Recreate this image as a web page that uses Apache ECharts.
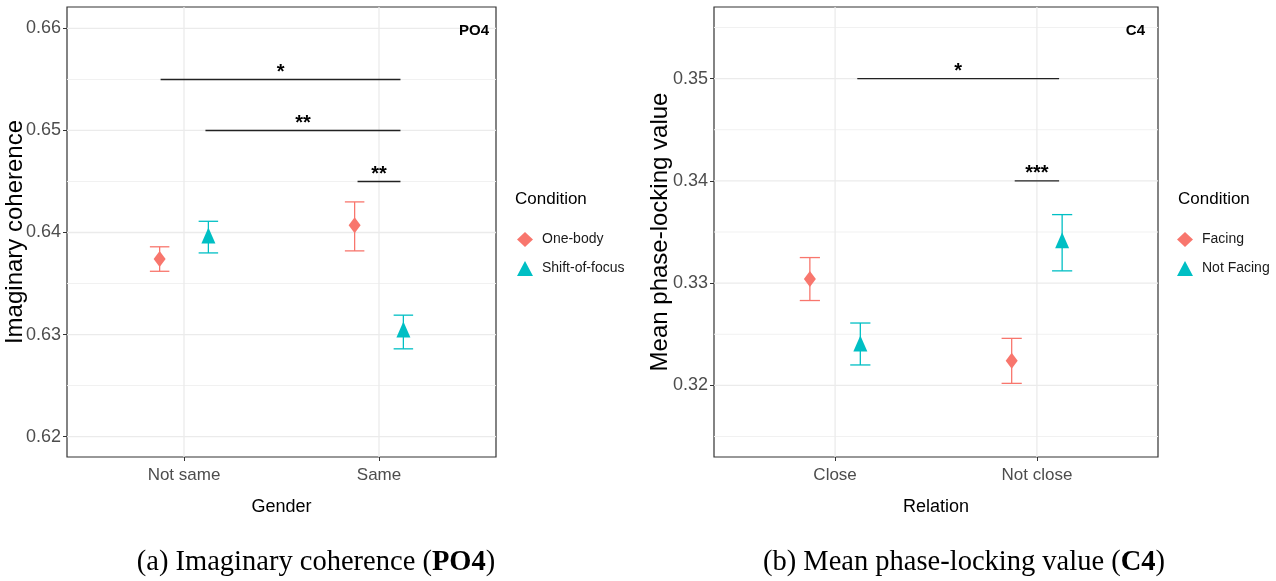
<!DOCTYPE html>
<html><head><meta charset="utf-8">
<script src="https://cdn.jsdelivr.net/npm/echarts@6/dist/echarts.min.js"></script>
<style>html,body{margin:0;padding:0;background:#fff}#c{width:1276px;height:581px}</style>
</head><body><div id="c"></div>
<script>
// ---------- data ----------
const genderCats = ['Not same', 'Same'];
const relationCats = ['Close', 'Not close'];
const condA = ['One-body', 'Shift-of-focus'];
const condB = ['Facing', 'Not Facing'];

const oneBodyMean = [0.6374, 0.6407];
const oneBodyLow  = [0.6362, 0.6382];
const oneBodyHigh = [0.6386, 0.6430];
const shiftMean   = [0.6397, 0.6305];
const shiftLow    = [0.6380, 0.6286];
const shiftHigh   = [0.6411, 0.6319];

const facingMean    = [0.3304, 0.3224];
const facingLow     = [0.3283, 0.3202];
const facingHigh    = [0.3325, 0.3246];
const notFacingMean = [0.3241, 0.3342];
const notFacingLow  = [0.3220, 0.3312];
const notFacingHigh = [0.3261, 0.3367];

const yTicksA = [0.62, 0.63, 0.64, 0.65, 0.66];
const yMinorA = [0.625, 0.635, 0.645, 0.655];
const yTicksB = [0.32, 0.33, 0.34, 0.35];
const yMinorB = [0.315, 0.325, 0.335, 0.345, 0.355];

// significance brackets
const sigA_x0 = [0.88, 1.11, 1.89];
const sigA_x1 = [2.11, 2.11, 2.11];
const sigA_y  = [0.655, 0.650, 0.645];
const sigA_label = ['*', '**', '**'];
const sigB_x0 = [1.11, 1.89];
const sigB_x1 = [2.11, 2.11];
const sigB_y  = [0.350, 0.340];
const sigB_label = ['*', '***'];

// ---------- style ----------
const RED = '#F8766D', TEAL = '#00BFC4';
const SANS = '"Liberation Sans", Arial, sans-serif';
const SERIF = '"Liberation Serif", "Times New Roman", serif';
const DODGE = 0.125, CAP = 0.05;
const XMIN = 0.4, XMAX = 2.6;

const chart = echarts.init(document.getElementById('c'));

function pos(i, side) { return i + 1 + side * DODGE; }

function gridH(gi, majors, minors) {
  const data = majors.map(v => [1, v, 1]).concat(minors.map(v => [1, v, 0]));
  return {
    type: 'custom', xAxisIndex: gi, yAxisIndex: gi, silent: true, z: 0, clip: true,
    encode: {x: 0, y: 1}, data: data,
    renderItem: (params, api) => {
      const cs = params.coordSys;
      const p = api.coord([api.value(0), api.value(1)]);
      const major = api.value(2) === 1;
      return {type: 'line', silent: true,
        shape: {x1: cs.x, y1: p[1], x2: cs.x + cs.width, y2: p[1]},
        style: {stroke: major ? '#EBEBEB' : '#F1F1F1', lineWidth: major ? 1.3 : 1}};
    }
  };
}
function gridV(gi, yRef) {
  return {
    type: 'custom', xAxisIndex: gi, yAxisIndex: gi, silent: true, z: 0, clip: true,
    encode: {x: 0, y: 1}, data: [[1, yRef], [2, yRef]],
    renderItem: (params, api) => {
      const cs = params.coordSys;
      const p = api.coord([api.value(0), api.value(1)]);
      return {type: 'line', silent: true,
        shape: {x1: p[0], y1: cs.y, x2: p[0], y2: cs.y + cs.height},
        style: {stroke: '#EBEBEB', lineWidth: 1.3}};
    }
  };
}
function errBars(gi, name, color, side, low, high) {
  return {
    type: 'custom', name: name, xAxisIndex: gi, yAxisIndex: gi, z: 2,
    itemStyle: {color: color},
    encode: {x: 0, y: [1, 2]},
    data: low.map((l, i) => [pos(i, side), l, high[i]]),
    renderItem: (params, api) => {
      const x = api.value(0), lo = api.value(1), hi = api.value(2);
      const pLo = api.coord([x, lo]), pHi = api.coord([x, hi]);
      const pL = api.coord([x - CAP, hi]), pR = api.coord([x + CAP, hi]);
      const h = (pR[0] - pL[0]) / 2;
      const st = {stroke: color, lineWidth: 1.3, fill: null};
      return {type: 'group', children: [
        {type: 'line', shape: {x1: pLo[0], y1: pLo[1], x2: pHi[0], y2: pHi[1]}, style: st},
        {type: 'line', shape: {x1: pHi[0] - h, y1: pHi[1], x2: pHi[0] + h, y2: pHi[1]}, style: st},
        {type: 'line', shape: {x1: pLo[0] - h, y1: pLo[1], x2: pLo[0] + h, y2: pLo[1]}, style: st}
      ]};
    }
  };
}
function points(gi, name, color, side, means, symbol, size) {
  return {
    type: 'scatter', name: name, xAxisIndex: gi, yAxisIndex: gi, z: 3,
    symbol: symbol, symbolSize: size,
    itemStyle: {color: color, opacity: 1},
    data: means.map((m, i) => [pos(i, side), m])
  };
}
function sig(gi, x0, x1, y, labels) {
  return {
    type: 'custom', xAxisIndex: gi, yAxisIndex: gi, z: 4, silent: true,
    encode: {x: [0, 1], y: 2},
    data: x0.map((v, i) => [v, x1[i], y[i]]),
    renderItem: (params, api) => {
      const a = api.coord([api.value(0), api.value(2)]);
      const b = api.coord([api.value(1), api.value(2)]);
      return {type: 'group', children: [
        {type: 'line', shape: {x1: a[0], y1: a[1], x2: b[0], y2: b[1]},
          style: {stroke: '#222', lineWidth: 1.4}},
        {type: 'text', x: (a[0] + b[0]) / 2, y: a[1] + 3,
          style: {text: labels[params.dataIndex], align: 'center', verticalAlign: 'bottom',
            fill: '#000', fontSize: 20, fontWeight: 'bold', fontFamily: SANS}}
      ]};
    }
  };
}
function xAxisDef(gi, cats, title) {
  return {
    type: 'value', gridIndex: gi, min: XMIN, max: XMAX,
    axisLine: {show: false}, splitLine: {show: false},
    axisTick: {show: true, length: 4, lineStyle: {color: '#333', width: 1}, customValues: [1, 2]},
    axisLabel: {customValues: [1, 2], formatter: v => cats[Math.round(v) - 1],
      fontSize: 17, color: '#4D4D4D', fontFamily: SANS, margin: 10},
    name: title, nameLocation: 'middle', nameGap: 41, nameMoveOverlap: false,
    nameTextStyle: {fontSize: 18, color: '#000', fontFamily: SANS}
  };
}
function yAxisDef(gi, min, max, ticks, title, gap) {
  return {
    type: 'value', gridIndex: gi, min: min, max: max,
    axisLine: {show: false}, splitLine: {show: false},
    axisTick: {show: true, length: 4, lineStyle: {color: '#333', width: 1}, customValues: ticks},
    axisLabel: {customValues: ticks, formatter: v => v.toFixed(2),
      fontSize: 18, color: '#4D4D4D', fontFamily: SANS, margin: 6},
    name: title, nameLocation: 'middle', nameGap: gap, nameRotate: 90, nameMoveOverlap: false,
    nameTextStyle: {fontSize: 24, color: '#000', fontFamily: SANS}
  };
}
function legendDef(names, left) {
  return {
    orient: 'vertical', left: left, top: 232, padding: 0,
    itemWidth: 16, itemHeight: 15, itemGap: 14,
    data: [{name: names[0], icon: 'diamond'}, {name: names[1], icon: 'triangle'}],
    textStyle: {fontSize: 14, color: '#1A1A1A', fontFamily: SANS, padding: [0, 0, 0, 4]}
  };
}

const option = {
  animation: false,
  backgroundColor: '#fff',
  grid: [
    {left: 67, top: 7, width: 429, height: 450, show: true, borderColor: '#333', borderWidth: 1.2,
      outerBoundsMode: 'none', containLabel: false},
    {left: 714, top: 7, width: 444, height: 450, show: true, borderColor: '#333', borderWidth: 1.2,
      outerBoundsMode: 'none', containLabel: false}
  ],
  xAxis: [xAxisDef(0, genderCats, 'Gender'), xAxisDef(1, relationCats, 'Relation')],
  yAxis: [
    yAxisDef(0, 0.618, 0.6621, yTicksA, 'Imaginary coherence', 40),
    yAxisDef(1, 0.3130, 0.3570, yTicksB, 'Mean phase-locking value', 42)
  ],
  legend: [legendDef(condA, 517), legendDef(condB, 1177)],
  series: [
    gridH(0, yTicksA, yMinorA), gridV(0, 0.64),
    gridH(1, yTicksB, yMinorB), gridV(1, 0.33),
    errBars(0, condA[0], RED, -1, oneBodyLow, oneBodyHigh),
    errBars(0, condA[1], TEAL, 1, shiftLow, shiftHigh),
    points(0, condA[0], RED, -1, oneBodyMean, 'diamond', [12, 16]),
    points(0, condA[1], TEAL, 1, shiftMean, 'triangle', [14, 16]),
    errBars(1, condB[0], RED, -1, facingLow, facingHigh),
    errBars(1, condB[1], TEAL, 1, notFacingLow, notFacingHigh),
    points(1, condB[0], RED, -1, facingMean, 'diamond', [12, 16]),
    points(1, condB[1], TEAL, 1, notFacingMean, 'triangle', [14, 16]),
    sig(0, sigA_x0, sigA_x1, sigA_y, sigA_label),
    sig(1, sigB_x0, sigB_x1, sigB_y, sigB_label)
  ],
  graphic: [
    {type: 'text', z: 100, left: 515, top: 191, style: {text: 'Condition', fontSize: 17, fill: '#000', fontFamily: SANS}},
    {type: 'text', z: 100, left: 1178, top: 191, style: {text: 'Condition', fontSize: 17, fill: '#000', fontFamily: SANS}},
    {type: 'text', z: 100, x: 489, y: 31, style: {text: 'PO4', align: 'right', verticalAlign: 'middle', fontSize: 15, fontWeight: 'bold', fill: '#000', fontFamily: SANS}},
    {type: 'text', z: 100, x: 1145, y: 31, style: {text: 'C4', align: 'right', verticalAlign: 'middle', fontSize: 15, fontWeight: 'bold', fill: '#000', fontFamily: SANS}},
    {type: 'text', z: 100, x: 316, y: 563, style: {
      text: '{n|(a) Imaginary coherence (}{b|PO4}{n|)}', align: 'center', verticalAlign: 'middle',
      rich: {n: {fontSize: 28.5, fontFamily: SERIF, fill: '#000'}, b: {fontSize: 28.5, fontFamily: SERIF, fontWeight: 'bold', fill: '#000'}}}},
    {type: 'text', z: 100, x: 964, y: 563, style: {
      text: '{n|(b) Mean phase-locking value (}{b|C4}{n|)}', align: 'center', verticalAlign: 'middle',
      rich: {n: {fontSize: 28.5, fontFamily: SERIF, fill: '#000'}, b: {fontSize: 28.5, fontFamily: SERIF, fontWeight: 'bold', fill: '#000'}}}}
  ]
};
chart.setOption(option);
</script></body></html>
